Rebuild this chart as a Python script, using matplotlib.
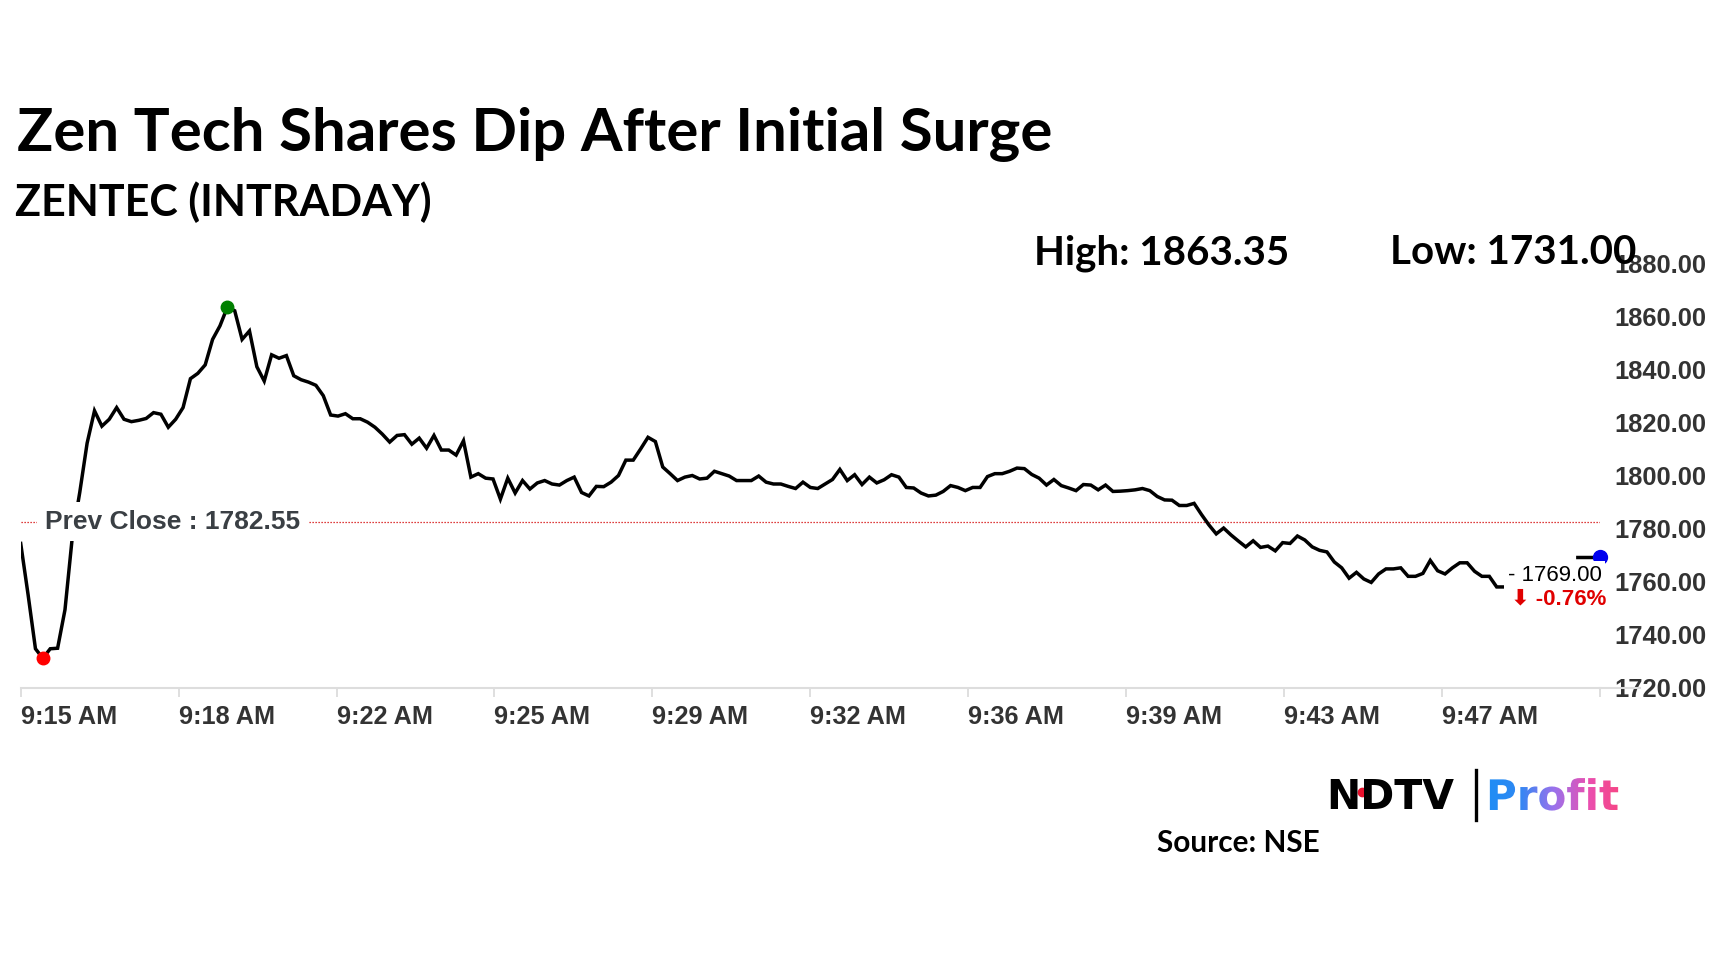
import numpy as np
import matplotlib.pyplot as plt
from matplotlib.textpath import TextPath
from matplotlib.font_manager import FontProperties
from matplotlib.patches import PathPatch
from matplotlib.colors import LinearSegmentedColormap
from matplotlib.lines import Line2D

plt.rcParams['font.family'] = ['Liberation Sans', 'DejaVu Sans']

title = "Zen Tech Shares Dip After Initial Surge"
subtitle = "ZENTEC (INTRADAY)"
day_high = 1863.35
day_low = 1731.00
prev_close = 1782.55
last_price = 1769.00
change_pct = -0.76
source = "Source: NSE"

tick_labels = ["9:15 AM", "9:18 AM", "9:22 AM", "9:25 AM", "9:29 AM",
               "9:32 AM", "9:36 AM", "9:39 AM", "9:43 AM", "9:47 AM", ""]

# price every 10 seconds from 9:15
prices = [1774.3, 1755.0, 1734.6, 1731.0, 1734.6, 1734.8, 1749.3, 1776.9, 1793.5, 1812.1,
          1824.3, 1818.5, 1821.1, 1825.5, 1821.1, 1820.2, 1820.7, 1821.4, 1823.6, 1823.0,
          1818.1, 1821.1, 1825.5, 1836.4, 1838.4, 1841.6, 1851.2, 1856.3, 1863.35, 1862.0,
          1851.2, 1854.4, 1840.9, 1835.5, 1845.4, 1844.1, 1845.1, 1837.5, 1836.0, 1835.1,
          1833.9, 1830.0, 1822.7, 1822.3, 1823.2, 1821.3, 1821.3, 1820.0, 1818.1, 1815.5,
          1812.5, 1815.0, 1815.3, 1811.7, 1814.0, 1810.2, 1815.0, 1809.5, 1809.5, 1807.6,
          1813.0, 1799.3, 1800.6, 1798.9, 1798.6, 1791.0, 1798.9, 1793.3, 1798.0, 1794.8,
          1797.1, 1798.0, 1796.7, 1796.3, 1798.0, 1799.3, 1793.5, 1792.2, 1795.8, 1795.7,
          1797.4, 1799.9, 1805.7, 1805.7, 1809.9, 1814.3, 1812.7, 1803.1, 1800.6, 1798.0,
          1799.3, 1799.9, 1798.6, 1798.9, 1801.5, 1800.6, 1799.7, 1798.0, 1798.0, 1798.0,
          1799.7, 1797.4, 1796.7, 1796.7, 1795.8, 1795.0, 1797.4, 1795.4, 1795.0, 1796.7,
          1798.4, 1802.2, 1798.0, 1800.2, 1796.5, 1799.3, 1797.1, 1798.3, 1800.2, 1799.3,
          1795.4, 1795.2, 1793.3, 1792.2, 1792.5, 1793.9, 1796.1, 1795.4, 1794.2, 1795.4,
          1795.4, 1799.5, 1800.6, 1800.6, 1801.5, 1802.7, 1802.5, 1800.3, 1798.9, 1796.3,
          1798.4, 1796.1, 1795.2, 1794.2, 1796.5, 1796.3, 1794.5, 1796.3, 1793.9, 1794.0,
          1794.2, 1794.5, 1795.0, 1794.2, 1792.0, 1790.7, 1790.6, 1788.6, 1788.6, 1789.4,
          1785.2, 1781.3, 1777.9, 1780.1, 1777.5, 1775.2, 1773.0, 1775.3, 1772.8, 1773.3,
          1771.5, 1774.6, 1774.3, 1777.1, 1775.6, 1773.0, 1771.7, 1771.1, 1767.3, 1765.1,
          1761.2, 1763.4, 1760.9, 1759.6, 1762.8, 1764.7, 1764.7, 1765.1, 1761.9, 1761.9,
          1763.0, 1767.9, 1764.0, 1762.8, 1765.1, 1767.0, 1767.0, 1763.8, 1761.9, 1761.9,
          1757.9, 1757.9]
gap_len = 9
tail = [1769.0, 1769.0, 1769.0, 1769.0]
step = 10
tick_step = 214

W, H = 1728, 972
def fx(px):
    return px / W
def fy(py):
    return 1 - py / H

fig = plt.figure(figsize=(17.28, 9.72), dpi=100)
fig.patch.set_facecolor('white')

ax = fig.add_axes([fx(20.7), fy(687.5), (1600 - 20.7) / W, (687.5 - 263) / H])

series = np.array(prices + [np.nan] * gap_len + tail)
t = np.arange(len(series)) * step

ax.plot(t, series, color='black', lw=2.5, zorder=3, solid_joinstyle='miter')
ax.plot([0, t[-1]], [prev_close, prev_close], color='#d40000', lw=0.9,
        ls=(0, (1, 1.4)), zorder=2)

i_hi = np.nanargmax(series)
i_lo = np.nanargmin(series)
ax.plot(t[i_hi], series[i_hi], 'o', color='#008000', ms=9, zorder=5, clip_on=False)
ax.plot(t[i_lo], series[i_lo], 'o', color='#ff0000', ms=9, zorder=5, clip_on=False)
ax.plot(t[-1], last_price, 'o', color='#0000ee', ms=10, zorder=5, clip_on=False)

ax.text(33, prev_close, "Prev Close : %.2f" % prev_close, fontsize=19,
        fontweight='bold', color='#3a3f44', va='center', ha='left', zorder=4,
        bbox=dict(boxstyle='square,pad=0.3', fc='white', ec='none'))

ax.text(2015, 1762.4, "- %.2f" % last_price, fontsize=16, color='black',
        va='center', ha='left', zorder=6, clip_on=False,
        bbox=dict(boxstyle='square,pad=0.15', fc='white', ec='none'))
ax.text(2020, 1753.2, "\u2b07 %.2f%%" % change_pct, fontsize=16, color='#e00000',
        fontweight='bold', va='center', ha='left', zorder=6, clip_on=False)

ax.set_xlim(0, tick_step * 10)
ax.set_ylim(1720, 1880)
ax.set_xticks(np.arange(11) * tick_step)
ax.set_xticklabels(tick_labels)
yt = np.arange(1720, 1881, 20)
ax.set_yticks(yt)
ax.set_yticklabels(["%.2f" % v for v in yt])
ax.yaxis.tick_right()
ax.tick_params(axis='y', length=0, pad=10, labelsize=18.4, labelcolor='#333333')
ax.tick_params(axis='x', length=6.5, width=1.2, color='#d9d9d9', pad=6,
               labelsize=18.2, labelcolor='#333333')
for lbl in ax.get_xticklabels():
    lbl.set_ha('left')
    lbl.set_fontweight('bold')
for lbl in ax.get_yticklabels():
    lbl.set_fontweight('bold')
for s in ['left', 'top', 'right']:
    ax.spines[s].set_visible(False)
ax.spines['bottom'].set_color('#dddddd')
ax.spines['bottom'].set_linewidth(1.5)
fig.add_artist(Line2D([fx(1600), fx(1640)], [fy(687.5), fy(687.5)], color='#dddddd',
                      lw=1.5, transform=fig.transFigure))

# titles
fig.text(fx(17), fy(151), title, fontsize=43.2, fontweight='bold', family='Lato',
         va='baseline', ha='left', color='black')
fig.text(fx(15), fy(216), subtitle, fontsize=31, fontweight='bold', family='Lato',
         va='baseline', ha='left', color='black')
fig.text(fx(1034), fy(264), "High: %.2f" % day_high, fontsize=29, fontweight='bold',
         family='Lato', va='baseline', ha='left', color='black')
fig.text(fx(1390), fy(264), "Low: %.2f" % day_low, fontsize=29, fontweight='bold',
         family='Lato', va='baseline', ha='left', color='black')
fig.text(fx(1157), fy(852), source, fontsize=21.4, fontweight='bold', family='Lato',
         va='baseline', ha='left', color='black')

# logo
fig.text(fx(1326), fy(809), "NDTV", fontsize=29.5, fontweight='bold', family='DejaVu Sans',
         va='baseline', ha='left', color='black')
fig.add_artist(Line2D([fx(1362)], [fy(792)], marker='o', color='#e8112d', ms=6,
                      transform=fig.transFigure))
fig.add_artist(Line2D([fx(1476), fx(1476)], [fy(770), fy(820)], color='black', lw=2.4,
                      transform=fig.transFigure))

lax = fig.add_axes([fx(1484), fy(820), 140 / W, 55 / H])
lax.set_xlim(0, 140)
lax.set_ylim(0, 55)
lax.axis('off')
tp = TextPath((2, 10), "Profit", size=42, prop=FontProperties(family='DejaVu Sans', weight='bold'))
patch = PathPatch(tp, transform=lax.transData, fc='none', ec='none')
lax.add_patch(patch)
cmap = LinearSegmentedColormap.from_list('profit', ['#1e8ef5', '#2f88f3', '#9a72ec', '#ea4fb0', '#f8457f'])
im = lax.imshow(np.linspace(0, 1, 256)[None, :], extent=[0, 140, 0, 55], cmap=cmap, aspect='auto')
im.set_clip_path(patch)

fig.savefig('out.png', dpi=100)
